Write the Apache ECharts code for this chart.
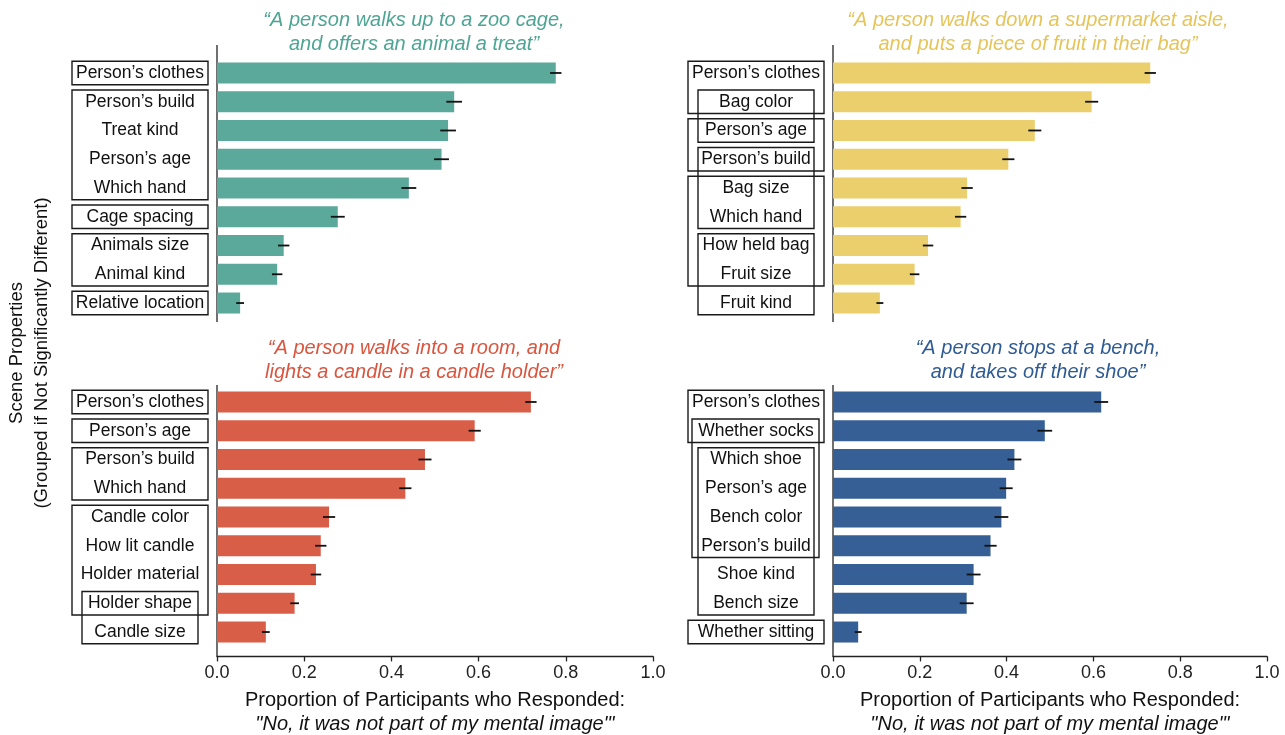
<!DOCTYPE html>
<html>
<head>
<meta charset="utf-8">
<script src="https://cdn.jsdelivr.net/npm/echarts@6/dist/echarts.min.js"></script>
<style>
  html, body { margin: 0; padding: 0; background: #ffffff; }
  #chart { width: 1285px; height: 735px; }
</style>
</head>
<body>
<div id="chart"></div>
<script>
// ---- Scene 1: zoo cage ----
const zooProps = ["Person\u2019s clothes", "Person\u2019s build", "Treat kind", "Person\u2019s age", "Which hand", "Cage spacing", "Animals size", "Animal kind", "Relative location"];
const zooValues = [0.777, 0.544, 0.530, 0.515, 0.440, 0.277, 0.153, 0.138, 0.053];
const zooErrors = [0.013, 0.018, 0.018, 0.017, 0.017, 0.016, 0.013, 0.012, 0.009];
// groups of properties that are not significantly different: [first, last, nesting tier]
const zooGroups = [[0, 0, 0], [1, 4, 0], [5, 5, 0], [6, 7, 0], [8, 8, 0]];

// ---- Scene 2: supermarket aisle ----
const marketProps = ["Person\u2019s clothes", "Bag color", "Person\u2019s age", "Person\u2019s build", "Bag size", "Which hand", "How held bag", "Fruit size", "Fruit kind"];
const marketValues = [0.731, 0.596, 0.465, 0.404, 0.309, 0.294, 0.219, 0.188, 0.108];
const marketErrors = [0.013, 0.015, 0.015, 0.014, 0.013, 0.013, 0.012, 0.011, 0.008];
const marketGroups = [[0, 1, 0], [2, 3, 0], [4, 7, 0], [1, 2, 2], [3, 5, 2], [6, 8, 2]];

// ---- Scene 3: candle ----
const candleProps = ["Person\u2019s clothes", "Person\u2019s age", "Person\u2019s build", "Which hand", "Candle color", "How lit candle", "Holder material", "Holder shape", "Candle size"];
const candleValues = [0.720, 0.591, 0.477, 0.432, 0.257, 0.238, 0.227, 0.178, 0.112];
const candleErrors = [0.013, 0.014, 0.015, 0.014, 0.014, 0.013, 0.012, 0.010, 0.009];
const candleGroups = [[0, 0, 0], [1, 1, 0], [2, 3, 0], [4, 7, 0], [7, 8, 2]];

// ---- Scene 4: bench ----
const benchProps = ["Person\u2019s clothes", "Whether socks", "Which shoe", "Person\u2019s age", "Bench color", "Person\u2019s build", "Shoe kind", "Bench size", "Whether sitting"];
const benchValues = [0.618, 0.488, 0.418, 0.399, 0.388, 0.363, 0.324, 0.308, 0.058];
const benchErrors = [0.016, 0.017, 0.016, 0.015, 0.016, 0.014, 0.016, 0.016, 0.008];
const benchGroups = [[0, 1, 0], [1, 5, 1], [2, 7, 2], [8, 8, 0]];

const sceneTitles = [
  "\u201cA person walks up to a zoo cage,\nand offers an animal a treat\u201d",
  "\u201cA person walks down a supermarket aisle,\nand puts a piece of fruit in their bag\u201d",
  "\u201cA person walks into a room, and\nlights a candle in a candle holder\u201d",
  "\u201cA person stops at a bench,\nand takes off their shoe\u201d"
];
const xTicks = ["0.0", "0.2", "0.4", "0.6", "0.8", "1.0"];
const xNameLine1 = "Proportion of Participants who Responded:";
const xNameLine2 = "\"No, it was not part of my mental image\"'";
const yNameLine1 = "Scene Properties";
const yNameLine2 = "(Grouped if Not Significantly Different)";

const FONT = "'Liberation Sans', Arial, Helvetica, sans-serif";
const panels = [
  { props: zooProps, values: zooValues, errors: zooErrors, groups: zooGroups, color: "#5ba99a", titleColor: "#4ea593", left: 217, width: 436, top: 58.6, showX: false },
  { props: marketProps, values: marketValues, errors: marketErrors, groups: marketGroups, color: "#ebcf6c", titleColor: "#e5c45a", left: 833, width: 434, top: 58.6, showX: false },
  { props: candleProps, values: candleValues, errors: candleErrors, groups: candleGroups, color: "#d95e48", titleColor: "#d9553e", left: 217, width: 436, top: 387.6, showX: true },
  { props: benchProps, values: benchValues, errors: benchErrors, groups: benchGroups, color: "#365f96", titleColor: "#2f5b95", left: 833, width: 434, top: 387.6, showX: true }
];
const BAND_H = 258.8;
// horizontal insets of the group boxes (from the y-axis line), by nesting tier
const tierInsets = [[145, 9], [141, 14], [135, 19]];

const grid = [], xAxis = [], yAxis = [], series = [], graphic = [];

panels.forEach(function (p, i) {
  grid.push({ left: p.left, width: p.width, top: p.top, height: BAND_H,
    containLabel: false, outerBoundsMode: "none" });
  xAxis.push({
    gridIndex: i, type: "value", min: 0, max: 1, interval: 0.2,
    show: p.showX, offset: 10,
    axisLine: { show: true, lineStyle: { color: "#222", width: 1.3 } },
    axisTick: { show: true, length: 5, lineStyle: { color: "#222", width: 1.3 } },
    axisLabel: { color: "#222", fontSize: 18, fontFamily: FONT, margin: 8,
      formatter: function (v) { return xTicks[Math.round(v / 0.2)]; } },
    splitLine: { show: false },
    name: "{a|" + xNameLine1 + "}\n{b|" + xNameLine2 + "}",
    nameLocation: "middle", nameGap: 32,
    nameTextStyle: {
      rich: {
        a: { fontSize: 20, fontFamily: FONT, color: "#111", lineHeight: 24 },
        b: { fontSize: 20, fontFamily: FONT, color: "#111", fontStyle: "italic", lineHeight: 24 }
      }
    }
  });
  yAxis.push({
    gridIndex: i, type: "category", inverse: true, data: p.props,
    axisLine: { show: false }, axisTick: { show: false },
    axisLabel: { color: "#111", fontSize: 17.5, fontFamily: FONT, align: "center", margin: 77 }
  });
  // bars
  series.push({
    type: "bar", xAxisIndex: i, yAxisIndex: i, data: p.values, barWidth: 21, z: 2,
    itemStyle: { color: p.color }, silent: true
  });
  // error bars, drawn above the bars
  series.push({
    type: "custom", xAxisIndex: i, yAxisIndex: i, silent: true, z: 10,
    encode: { x: 0, y: 1 },
    data: p.values.map(function (v, k) { return [v, k, p.errors[k]]; }),
    renderItem: function (params, api) {
      const v = api.value(0), k = api.value(1), e = api.value(2);
      const a = api.coord([v - e, k]), b = api.coord([v + e, k]);
      return { type: "line", z2: 10, shape: { x1: a[0], y1: a[1], x2: b[0], y2: b[1] },
        style: { stroke: "#111", lineWidth: 1.8 } };
    }
  });
  // group boxes around property labels
  series.push({
    type: "custom", xAxisIndex: i, yAxisIndex: i, silent: true, clip: false,
    encode: { x: 2, y: 0 },
    data: p.groups,
    renderItem: function (params, api) {
      const first = api.value(0), last = api.value(1), tier = api.value(2);
      const pa = api.coord([0, first]), pb = api.coord([0, last]);
      const ins = tierInsets[tier];
      const x0 = pa[0] - ins[0], x1 = pa[0] - ins[1];
      const y0 = pa[1] - 11.7, y1 = pb[1] + 11.7;
      return { type: "rect", shape: { x: x0, y: y0, width: x1 - x0, height: y1 - y0 },
        style: { fill: null, stroke: "#1a1a1a", lineWidth: 1.4 } };
    }
  });
  // vertical spine of the panel
  series.push({
    type: "custom", xAxisIndex: i, yAxisIndex: i, silent: true, clip: false,
    encode: { x: 0, y: 1 },
    data: [[0, 0]],
    renderItem: function (params, api) {
      const band = api.size([0, 1])[1];
      const top = api.coord([0, 0])[1] - band / 2;
      const bottom = top + band * p.props.length;
      const x = api.coord([0, 0])[0];
      const y0 = p.showX ? top - 2.6 : top - 13.6;
      const y1 = p.showX ? bottom + 10 : bottom + 4.6;
      return { type: "line", shape: { x1: x, y1: y0, x2: x, y2: y1 },
        style: { stroke: "#222", lineWidth: 1.3 } };
    }
  });
});

// scene titles
const titleCenters = [[414, 32], [1038, 32], [414, 360], [1038, 360]];
sceneTitles.forEach(function (t, i) {
  graphic.push({
    type: "text", x: titleCenters[i][0], y: titleCenters[i][1], silent: true,
    style: { text: t, fill: panels[i].titleColor, fontSize: 20, fontStyle: "italic",
      fontFamily: FONT, align: "center", verticalAlign: "middle", lineHeight: 24 }
  });
});
// shared y-axis title
graphic.push({
  type: "text", x: 17, y: 353, rotation: Math.PI / 2, silent: true,
  style: { text: yNameLine1, fill: "#111", fontSize: 18.5, fontFamily: FONT, align: "center", verticalAlign: "middle" }
});
graphic.push({
  type: "text", x: 42, y: 353, rotation: Math.PI / 2, silent: true,
  style: { text: yNameLine2, fill: "#111", fontSize: 18.5, fontFamily: FONT, align: "center", verticalAlign: "middle" }
});

const chart = echarts.init(document.getElementById("chart"), null, { renderer: "canvas" });
chart.setOption({
  backgroundColor: "#ffffff",
  animation: false,
  grid: grid, xAxis: xAxis, yAxis: yAxis, series: series, graphic: graphic
});
</script>
</body>
</html>
